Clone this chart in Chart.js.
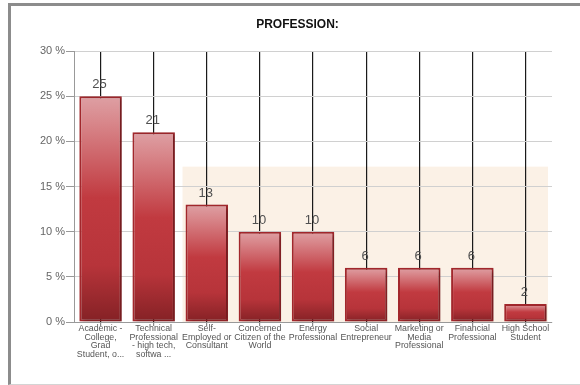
<!DOCTYPE html>
<html>
<head>
<meta charset="utf-8">
<script src="https://cdn.jsdelivr.net/npm/chart.js@4"></script>
<style>
    html, body { margin: 0; padding: 0; background: #fff; }
    #frame {
        position: absolute; left: 8px; top: 3px; width: 572px; height: 378px;
        border-left: 3px solid #8c8c8c; border-top: 3px solid #8c8c8c; border-bottom: 1px solid #d4d4d4;
    }
    #wrap { position: absolute; left: 0; top: 0; width: 569px; height: 375px; }
</style>
</head>
<body>
<div id="frame"><div id="wrap"><canvas id="professionChart"></canvas></div></div>
<script>
const chartTitle = 'PROFESSION:';
const categories = [
    ['Academic -', 'College,', 'Grad', 'Student, o...'],
    ['Technical', 'Professional', '- high tech,', 'softwa ...'],
    ['Self-', 'Employed or', 'Consultant'],
    ['Concerned', 'Citizen of the', 'World'],
    ['Energy', 'Professional'],
    ['Social', 'Entrepreneur'],
    ['Marketing or', 'Media', 'Professional'],
    ['Financial', 'Professional'],
    ['High School', 'Student']
];
const percentages = [25, 21, 13, 10, 10, 6, 6, 6, 2];
const yTicks = [0, 5, 10, 15, 20, 25, 30];

const FONT = 'Arial, "Liberation Sans", sans-serif';

function barGradient(context) {
    const chart = context.chart;
    if (!chart.chartArea) return '#c0393d';
    const y = chart.scales.y;
    const top = y.getPixelForValue(context.raw);
    const bottom = y.getPixelForValue(0);
    const g = chart.ctx.createLinearGradient(0, top, 0, bottom);
    g.addColorStop(0, '#dea0a4');
    g.addColorStop(0.12, '#d8868a');
    g.addColorStop(0.45, '#c13a40');
    g.addColorStop(0.75, '#b7343a');
    g.addColorStop(1, '#842125');
    return g;
}

// title centred on the whole canvas, not the chart area
const titleText = {
    id: 'titleText',
    afterDraw(chart) {
        const ctx = chart.ctx;
        ctx.save();
        ctx.font = 'bold 12px ' + FONT;
        ctx.fillStyle = '#111';
        ctx.textAlign = 'center';
        ctx.textBaseline = 'middle';
        ctx.fillText(chartTitle, chart.width / 2 + 2, 19);
        ctx.restore();
    }
};

// pale band behind the right part of the plot
const backdrop = {
    id: 'backdrop',
    beforeDraw(chart) {
        const { ctx, chartArea, scales } = chart;
        const meta = chart.getDatasetMeta(0);
        const bar = meta.data[2];
        const x0 = bar.x - bar.width / 2 - 3;
        const y0 = scales.y.getPixelForValue(17.2);
        ctx.save();
        ctx.fillStyle = '#fbf1e6';
        ctx.fillRect(x0, y0, chartArea.right - 4 - x0, chartArea.bottom - y0);
        ctx.restore();
    }
};

const barShadow = {
    id: 'barShadow',
    beforeDatasetsDraw(chart) {
        const ctx = chart.ctx;
        ctx.save();
        ctx.shadowColor = 'rgba(0,0,0,0.28)';
        ctx.shadowOffsetX = 3;
        ctx.shadowOffsetY = 1;
        ctx.shadowBlur = 3;
    },
    afterDatasetsDraw(chart) {
        chart.ctx.restore();
    }
};

const valueLabels = {
    id: 'valueLabels',
    afterDatasetsDraw(chart) {
        const ctx = chart.ctx;
        const meta = chart.getDatasetMeta(0);
        ctx.save();
        ctx.font = '13px ' + FONT;
        ctx.fillStyle = '#505050';
        ctx.textAlign = 'center';
        ctx.textBaseline = 'bottom';
        meta.data.forEach((bar, i) => {
            ctx.fillText(String(percentages[i]), bar.x - 1, bar.y - 5);
        });
        ctx.restore();
    }
};

const ctx = document.getElementById('professionChart').getContext('2d');
const professionChart = new Chart(ctx, {
    type: 'bar',
    data: {
        labels: categories,
        datasets: [
            {
                label: 'Profession',
                data: percentages,
                backgroundColor: barGradient,
                borderColor: '#a2272c',
                borderWidth: 2,
                borderSkipped: false,
                barPercentage: 0.8,
                categoryPercentage: 1
            }
        ]
    },
    options: {
        responsive: true,
        maintainAspectRatio: false,
        animation: false,
        layout: { padding: { left: 0, right: 28, bottom: 0, top: 45 } },
        plugins: {
            legend: { display: false },
            tooltip: { enabled: false },
            title: { display: false }
        },
        scales: {
            x: {
                offset: true,
                grid: {
                    offset: false,
                    color: '#1a1a1a',
                    lineWidth: 1.2,
                    tickColor: '#888',
                    tickLength: 4,
                    drawOnChartArea: true
                },
                border: { color: '#999', width: 1 },
                ticks: {
                    color: '#555',
                    font: { family: FONT, size: 8.8, lineHeight: 1.0 },
                    padding: -2,
                    maxRotation: 0,
                    autoSkip: false
                },
                afterFit(scale) { scale.height = 59; }
            },
            y: {
                min: 0,
                max: 30,
                afterBuildTicks(scale) { scale.ticks = yTicks.map(v => ({ value: v })); },
                grid: {
                    color: '#d0d0d0',
                    tickColor: '#999',
                    tickLength: 8
                },
                border: { color: '#999', width: 1 },
                ticks: {
                    color: '#666',
                    font: { family: FONT, size: 11 },
                    padding: 1,
                    callback: v => v + ' %'
                },
                afterFit(scale) { scale.width = 63; }
            }
        }
    },
    plugins: [backdrop, barShadow, valueLabels, titleText]
});
</script>
</body>
</html>
